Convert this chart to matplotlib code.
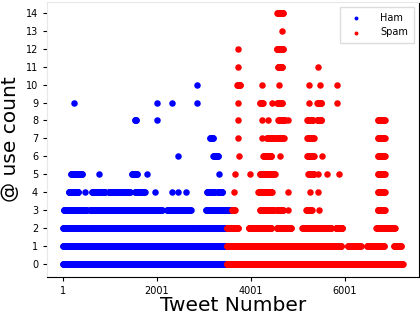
import numpy as np
import matplotlib
matplotlib.use("Agg")
import matplotlib.pyplot as plt

# runs of tweets: (use count, first tweet, last tweet)
ham_runs = [
    (0, 1, 3490), (1, 1, 3490),
    (2, 1, 510), (2, 555, 2085), (2, 2105, 2790), (2, 2830, 3490),
    (3, 15, 510), (3, 575, 940), (3, 970, 2110), (3, 2215, 2725),
    (3, 3040, 3315), (3, 3340, 3550),
    (4, 120, 335), (4, 460, 460), (4, 615, 895), (4, 970, 1430),
    (4, 1530, 1745), (4, 1965, 1965), (4, 2320, 2320), (4, 2440, 2440),
    (4, 2620, 2620), (4, 3065, 3235), (4, 3290, 3400),
    (5, 170, 405), (5, 772, 772), (5, 1470, 1575), (5, 1790, 1790),
    (5, 3313, 3313),
    (6, 2440, 2440), (6, 3200, 3310),
    (7, 3130, 3200),
    (8, 1530, 1560), (8, 2000, 2000),
    (9, 227, 227), (9, 2000, 2000), (9, 2320, 2320), (9, 2852, 2852),
    (10, 2852, 2852),
]

spam_runs = [
    (0, 3485, 7240),
    (1, 3485, 5930), (1, 6060, 6340), (1, 6475, 6835), (1, 7050, 7207),
    (2, 3485, 3730), (2, 3950, 4445), (2, 4548, 4860), (2, 5095, 5580),
    (2, 5620, 5720), (2, 5805, 5950), (2, 6675, 7065),
    (3, 3600, 3660), (3, 4192, 4490), (3, 4548, 4690), (3, 4795, 4795),
    (3, 5180, 5292), (3, 5455, 5455), (3, 6700, 6852),
    (4, 3640, 3640), (4, 4160, 4440), (4, 4795, 4795), (4, 5270, 5270),
    (4, 5440, 5440), (4, 6710, 6852),
    (5, 3660, 3660), (5, 3980, 3980), (5, 4192, 4511), (5, 5220, 5340),
    (5, 5433, 5433), (5, 5625, 5625), (5, 5880, 5880), (5, 6710, 6852),
    (6, 3737, 3737), (6, 4262, 4440), (6, 4618, 4618), (6, 5200, 5340),
    (6, 5505, 5505), (6, 6710, 6852),
    (7, 3730, 3730), (7, 4228, 4228), (7, 4334, 4511), (7, 4560, 4700),
    (7, 5200, 5340), (7, 6710, 6852),
    (8, 3730, 3730), (8, 4228, 4228), (8, 4355, 4355), (8, 4582, 4724),
    (8, 4795, 4795), (8, 5200, 5327), (8, 5412, 5505), (8, 6710, 6852),
    (9, 3730, 3730), (9, 4192, 4262), (9, 4440, 4440), (9, 4560, 4670),
    (9, 5242, 5242), (9, 5412, 5505), (9, 5838, 5838),
    (10, 3710, 3780), (10, 4228, 4228), (10, 4603, 4603), (10, 5242, 5242),
    (10, 5469, 5469), (10, 5824, 5824),
    (11, 3730, 3730), (11, 4580, 4670), (11, 5433, 5433),
    (12, 3730, 3730), (12, 4548, 4690),
    (13, 4653, 4653),
    (14, 4560, 4690),
]

x_ticks = [1, 2001, 4001, 6001]
y_ticks = list(range(0, 15))


def expand(runs, step=8):
    xs, ys = [], []
    for count, start, end in runs:
        pts = np.arange(start, end + 1, step)
        xs.extend(pts)
        ys.extend([count] * len(pts))
    return np.array(xs), np.array(ys)


ham_x, ham_y = expand(ham_runs)
spam_x, spam_y = expand(spam_runs)

fig, ax = plt.subplots(figsize=(4.2, 3.16), dpi=100)
fig.subplots_adjust(left=0.112, right=0.997, bottom=0.123, top=0.994)

ax.scatter(ham_x, ham_y, s=22, c='blue', linewidths=0, label='Ham')
ax.scatter(spam_x, spam_y, s=22, c='red', linewidths=0, label='Spam')

ax.set_xlim(-340, 7575)
ax.set_ylim(-0.72, 14.6)
ax.set_xticks(x_ticks)
ax.set_yticks(y_ticks)
ax.tick_params(labelsize=7, length=3, width=0.8)

ax.set_xlabel('Tweet Number', fontsize=14.5, labelpad=0)
ax.set_ylabel('@ use count', fontsize=14.5, labelpad=4)

for side in ['left', 'top']:
    ax.spines[side].set_color('#e8e8e8')
for side in ['bottom', 'right']:
    ax.spines[side].set_color('black')

ax.legend(loc='upper right', fontsize=7, markerscale=0.6,
          borderpad=0.6, labelspacing=0.5, handletextpad=1.5,
          fancybox=False, edgecolor='#dddddd', framealpha=1)

fig.savefig('out.png', dpi=100)
